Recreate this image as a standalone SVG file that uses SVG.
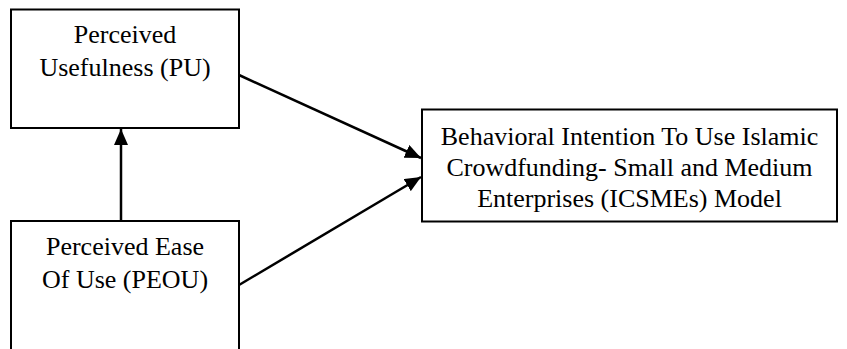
<svg xmlns="http://www.w3.org/2000/svg" width="847" height="349" viewBox="0 0 847 349">
<style>
.box{fill:#fff;stroke:#000;stroke-width:2}
.t{font-family:"Liberation Serif","Times New Roman",serif;font-size:26px;fill:#000;text-anchor:middle}
.c{stroke:#000;stroke-width:2.5;fill:none}
</style>
<defs>
<marker id="ah" markerUnits="userSpaceOnUse" markerWidth="16" markerHeight="14" refX="16" refY="7" orient="auto">
<path d="M0,0 L16,7 L0,14 Z" fill="#000"/>
</marker>
</defs>
<rect width="847" height="349" fill="#fff"/>
<g id="pu">
<rect class="box" x="11" y="9.5" width="228" height="118.5"/>
<text class="t" x="125" y="43">Perceived</text>
<text class="t" x="125" y="75.5">Usefulness (PU)</text>
</g>
<g id="peou">
<rect class="box" x="11" y="221" width="228" height="140"/>
<text class="t" x="125" y="255">Perceived Ease</text>
<text class="t" x="125" y="288">Of Use (PEOU)</text>
</g>
<g id="bi">
<rect class="box" x="422" y="109.5" width="415" height="112"/>
<text class="t" x="629.5" y="145">Behavioral Intention To Use Islamic</text>
<text class="t" x="629.5" y="176">Crowdfunding- Small and Medium</text>
<text class="t" x="629.5" y="206.5">Enterprises (ICSMEs) Model</text>
</g>
<g id="connectors">
<line class="c" x1="121" y1="221" x2="121" y2="129" marker-end="url(#ah)"/>
<line class="c" x1="239" y1="75" x2="421" y2="158" marker-end="url(#ah)"/>
<line class="c" x1="239" y1="285" x2="421" y2="177" marker-end="url(#ah)"/>
</g>
</svg>
